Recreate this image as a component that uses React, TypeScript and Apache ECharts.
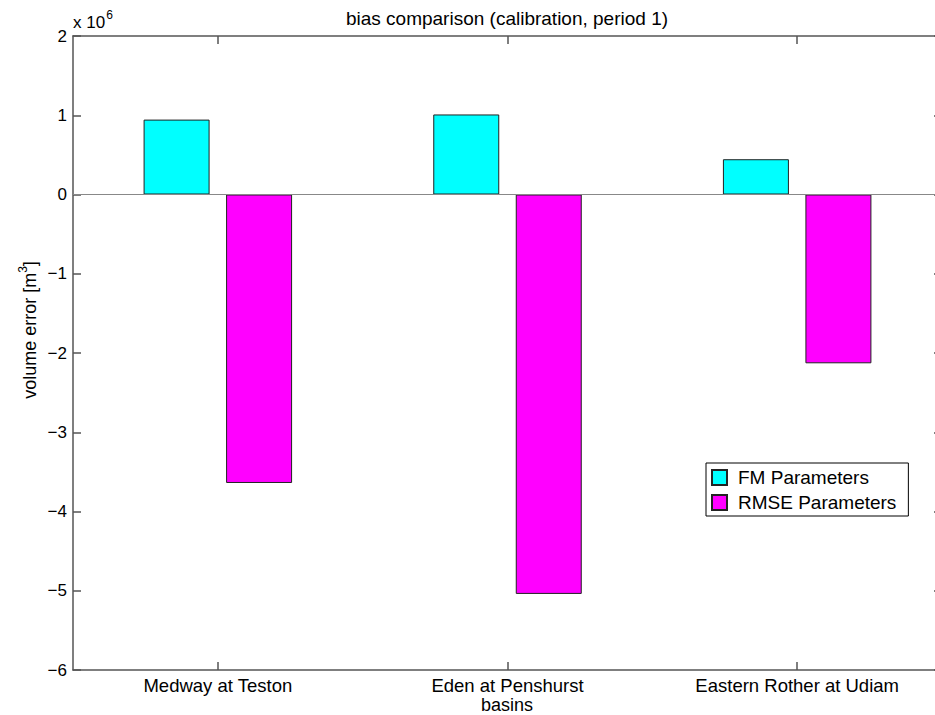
import React, { useEffect, useRef } from "react";
import * as echarts from "echarts";

const categories = ["Medway at Teston", "Eden at Penshurst", "Eastern Rother at Udiam"];
const fmParameters = [0.945e6, 1.01e6, 0.445e6];
const rmseParameters = [-3.64e6, -5.04e6, -2.13e6];
const seriesNames = ["FM Parameters", "RMSE Parameters"];
const yTicks = { min: -6e6, max: 2e6, interval: 1e6 };

const FONT = '"Liberation Sans", Arial, Helvetica, sans-serif';
const AXIS_COLOR = "#555";

function fmtTick(v: number): string {
  const n = Math.round(v / 1e6);
  return n < 0 ? "\u2212" + Math.abs(n) : String(n);
}

export default function App() {
  const ref = useRef<HTMLDivElement>(null);
  useEffect(() => {
    if (!ref.current) return;
    const chart = echarts.init(ref.current, undefined, { renderer: "svg" });
    const axisLine = { show: true, lineStyle: { color: AXIS_COLOR, width: 1.5 } };
    const tick = { show: true, inside: true, length: 8, lineStyle: { color: AXIS_COLOR, width: 1.5 } };
    chart.setOption({
      animation: false,
      backgroundColor: "#ffffff",
      textStyle: { fontFamily: FONT },
      grid: { left: 73, top: 36, right: 8, bottom: 45, containLabel: false },
      legend: {
        orient: "vertical",
        left: 706,
        top: 463,
        itemWidth: 15,
        itemHeight: 15,
        itemGap: 6,
        padding: [5, 12, 4, 5],
        borderColor: "#000",
        borderWidth: 1,
        backgroundColor: "#fff",
        icon: "rect",
        textStyle: { fontFamily: FONT, fontSize: 19, color: "#000", lineHeight: 15, padding: [0, 0, 0, 6] },
        data: seriesNames,
      },
      xAxis: [
        {
          type: "category",
          data: categories,
          position: "bottom",
          axisLine: { ...axisLine, onZero: false },
          axisTick: { ...tick, alignWithLabel: true },
          axisLabel: { color: "#000", fontSize: 18.5, fontFamily: FONT, margin: 7, lineHeight: 17 },
          splitLine: { show: false },
        },
        {
          type: "category",
          data: categories,
          position: "top",
          axisLine: { ...axisLine, onZero: false },
          axisTick: { ...tick, alignWithLabel: true },
          axisLabel: { show: false },
          splitLine: { show: false },
        },
      ],
      yAxis: [
        {
          type: "value",
          min: yTicks.min,
          max: yTicks.max,
          interval: yTicks.interval,
          position: "left",
          axisLine,
          axisTick: tick,
          axisLabel: { color: "#000", fontSize: 17, fontFamily: FONT, margin: 6, formatter: fmtTick },
          splitLine: { show: false },
        },
        {
          type: "value",
          min: yTicks.min,
          max: yTicks.max,
          interval: yTicks.interval,
          position: "right",
          axisLine,
          axisTick: tick,
          axisLabel: { show: false },
          splitLine: { show: false },
        },
      ],
      series: [
        {
          name: seriesNames[0],
          type: "bar",
          data: fmParameters,
          barWidth: 66,
          barGap: "25%",
          itemStyle: { color: "#00ffff", borderColor: "#222", borderWidth: 1 },
          markLine: {
            silent: true,
            symbol: "none",
            label: { show: false },
            lineStyle: { color: "#888", type: "solid", width: 1 },
            data: [{ yAxis: 0 }],
          },
        },
        {
          name: seriesNames[1],
          type: "bar",
          data: rmseParameters,
          barWidth: 66,
          barGap: "25%",
          itemStyle: { color: "#ff00ff", borderColor: "#222", borderWidth: 1 },
        },
      ],
      graphic: [
        {
          type: "text",
          x: 0,
          y: 0,
          style: {
            text: "bias comparison (calibration, period 1)",
            x: 507,
            y: 9,
            align: "center",
            verticalAlign: "top",
            fontSize: 19,
            fontFamily: FONT,
            fill: "#000",
          },
        },
        {
          type: "text",
          x: 73,
          y: 9,
          style: {
            text: "{a|x 10}{s|6}",
            fontFamily: FONT,
            rich: {
              a: { fontSize: 17, lineHeight: 22, fontFamily: FONT, fill: "#000", verticalAlign: "bottom" },
              s: { fontSize: 12, lineHeight: 12, fontFamily: FONT, fill: "#000", verticalAlign: "top", padding: [0, 0, 0, 1] },
            },
          },
        },
        {
          type: "text",
          x: 28,
          y: 330,
          rotation: Math.PI / 2,
          style: {
            text: "{a|volume error [m}{s|3}{a|]}",
            align: "center",
            verticalAlign: "middle",
            fontFamily: FONT,
            rich: {
              a: { fontSize: 18, lineHeight: 22, fontFamily: FONT, fill: "#000", verticalAlign: "bottom" },
              s: { fontSize: 12, lineHeight: 12, fontFamily: FONT, fill: "#000", verticalAlign: "top" },
            },
          },
        },
        {
          type: "text",
          x: 507,
          y: 705,
          style: {
            text: "basins",
            align: "center",
            verticalAlign: "middle",
            fontSize: 18,
            lineHeight: 15,
            fontFamily: FONT,
            fill: "#000",
          },
        },
      ],
    });
    return () => chart.dispose();
  }, []);
  return (
    <div style={{ position: "fixed", left: 0, top: 0, width: 935, height: 715, overflow: "hidden", background: "#fff" }}>
      <div ref={ref} style={{ width: 950, height: 715 }} />
    </div>
  );
}
